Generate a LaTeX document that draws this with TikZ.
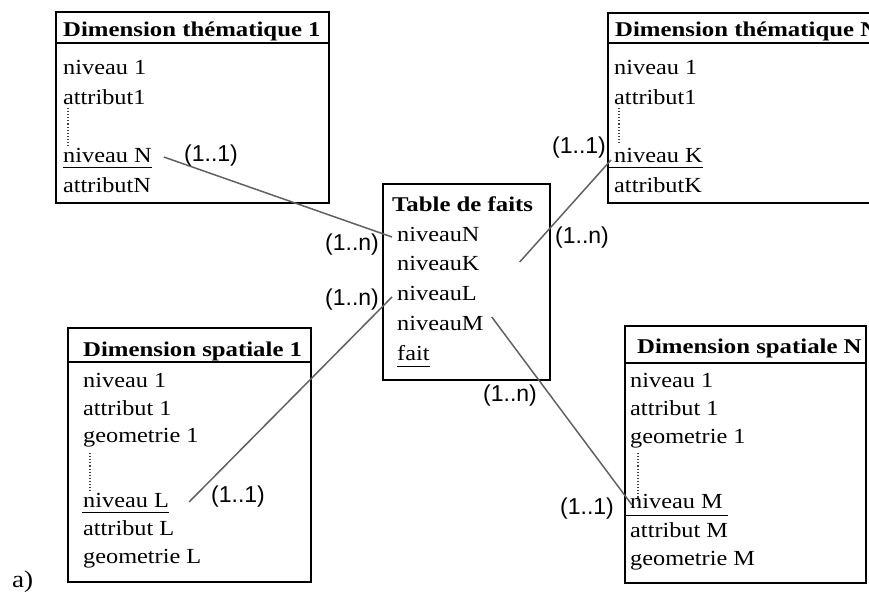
\documentclass[tikz,border=0pt]{standalone}
\usepackage{fontspec}
\setmainfont[FakeStretch=1.13]{Liberation Serif}
\newfontfamily\headfont[FakeStretch=1.18]{Liberation Serif}
\newfontfamily\cardfont{Liberation Sans}
\usetikzlibrary{positioning,calc}

\begin{document}
\begin{tikzpicture}[
    x=1pt, y=-1pt,
    entity/.style={draw, line width=1.2pt, rectangle, anchor=north west, inner sep=0pt, outer sep=0pt},
    head/.style={anchor=base west, inner sep=0pt, font=\headfont\fontsize{21}{25}\selectfont\bfseries},
    field/.style={anchor=base west, inner sep=0pt, font=\fontsize{21.5}{25}\selectfont},
    card/.style={inner sep=0pt, font=\cardfont\fontsize{23}{27}\selectfont},
    link/.style={draw=black!62, line width=1.5pt},
    keyline/.style={line width=1pt},
    gap/.style={dotted, line width=1.1pt, black!75}
]
    \clip (0,0) rectangle (869,593);

    % Dimension thematique 1
    \node[entity, minimum width=273pt, minimum height=191pt] (dt1) at (56,12) {};
    \draw[line width=1.2pt] ([yshift=-31pt]dt1.north west) -- ([yshift=-31pt]dt1.north east);
    \node[head] (hdt1) at (63,37) {Dimension thématique 1};
    \node[field] (n1dt1) at (63,75) {niveau 1};
    \node[field] (a1dt1) at (63,105) {attribut1};
    \node[field] (nNdt1) at (63,163) {niveau N};
    \node[field] (aNdt1) at (63,193) {attributN};
    \draw[keyline] ([yshift=-5pt]nNdt1.base west) -- ([yshift=-5pt]nNdt1.base east);
    \draw[gap] ([xshift=5pt,yshift=-3pt]a1dt1.base west) -- ([xshift=5pt,yshift=16pt]nNdt1.base west);

    % Dimension thematique N
    \node[entity, minimum width=290pt, minimum height=190pt] (dtN) at (608,13) {};
    \draw[line width=1.2pt] ([yshift=-30pt]dtN.north west) -- ([yshift=-30pt]dtN.north east);
    \node[head] (hdtN) at (615,37) {Dimension thématique N};
    \node[field] (n1dtN) at (614,75) {niveau 1};
    \node[field] (a1dtN) at (614,105) {attribut1};
    \node[field] (nKdtN) at (614,163) {niveau K};
    \node[field] (aKdtN) at (614,193) {attributK};
    \draw[keyline] ([xshift=-6pt,yshift=-5pt]nKdtN.base west) -- ([yshift=-5pt]nKdtN.base east);
    \draw[gap] ([xshift=5pt,yshift=-3pt]a1dtN.base west) -- ([xshift=5pt,yshift=20pt]nKdtN.base west);

    % Table de faits
    \node[entity, minimum width=167pt, minimum height=196pt] (tf) at (383,184) {};
    \node[head] (htf) at (392,212) {Table de faits};
    \node[field] (tN) at (397,242) {niveauN};
    \node[field] (tK) at (397,271) {niveauK};
    \node[field] (tL) at (397,301) {niveauL};
    \node[field] (tM) at (397,330) {niveauM};
    \node[field] (tfait) at (397,360) {fait};
    \draw[keyline] ([yshift=-6pt]tfait.base west) -- ([yshift=-6pt]tfait.base east);

    % Dimension spatiale 1
    \node[entity, minimum width=243pt, minimum height=254pt] (ds1) at (68,328) {};
    \draw[line width=1.2pt] ([yshift=-34pt]ds1.north west) -- ([yshift=-34pt]ds1.north east);
    \node[head] (hds1) at (83,356) {Dimension spatiale 1};
    \node[field] (n1ds1) at (83,387) {niveau 1};
    \node[field] (a1ds1) at (83,415) {attribut 1};
    \node[field] (g1ds1) at (83,442) {geometrie 1};
    \node[field] (nLds1) at (83,507) {niveau L};
    \node[field] (aLds1) at (83,535) {attribut L};
    \node[field] (gLds1) at (83,563) {geometrie L};
    \draw[keyline] ([xshift=-1pt,yshift=-5pt]nLds1.base west) -- ([yshift=-5pt]nLds1.base east);
    \draw[gap] ([xshift=7pt,yshift=-11pt]g1ds1.base west) -- ([xshift=7pt,yshift=14pt]nLds1.base west);

    % Dimension spatiale N
    \node[entity, minimum width=241pt, minimum height=257pt] (dsN) at (625,326) {};
    \draw[line width=1.2pt] ([yshift=-37pt]dsN.north west) -- ([yshift=-37pt]dsN.north east);
    \node[head] (hdsN) at (637,353) {Dimension spatiale N};
    \node[field] (n1dsN) at (630,387) {niveau 1};
    \node[field] (a1dsN) at (630,415) {attribut 1};
    \node[field] (g1dsN) at (630,443) {geometrie 1};
    \node[field] (nMdsN) at (630,508) {niveau M};
    \node[field] (aMdsN) at (630,537) {attribut M};
    \node[field] (gMdsN) at (630,565) {geometrie M};
    \draw[keyline] ([xshift=-5pt,yshift=-7pt]nMdsN.base west) -- ([xshift=5pt,yshift=-7pt]nMdsN.base east);
    \draw[gap] ([xshift=8pt,yshift=-10pt]g1dsN.base west) -- ([xshift=8pt,yshift=8pt]nMdsN.base west);

    % liens
    \draw[link] ([xshift=12pt,yshift=6pt]nNdt1.base east) -- ([xshift=-5pt,yshift=5pt]tN.base west);
    \draw[link] ([xshift=40pt,yshift=9pt]tK.base east) -- ([xshift=-3pt,yshift=3pt]nKdtN.base west);
    \draw[link] ([xshift=-5pt,yshift=4pt]tL.base west) -- ([xshift=20pt,yshift=5pt]nLds1.base east);
    \draw[link] ([xshift=8pt,yshift=13pt]tM.base east) -- ([xshift=2pt,yshift=3pt]nMdsN.base west);

    % cardinalites
    \node[card] (c1) at (211,156) {(1..1)};
    \node[card] (c2) at (352,245) {(1..n)};
    \node[card] (c3) at (582,238) {(1..n)};
    \node[card] (c4) at (579,148) {(1..1)};
    \node[card] (c5) at (352,300) {(1..n)};
    \node[card] (c6) at (238,497) {(1..1)};
    \node[card] (c7) at (510,396) {(1..n)};
    \node[card] (c8) at (587,509) {(1..1)};

    \node[field, font=\fontsize{24}{28}\selectfont] (lbl) at (12,587) {a)};
\end{tikzpicture}
\end{document}
